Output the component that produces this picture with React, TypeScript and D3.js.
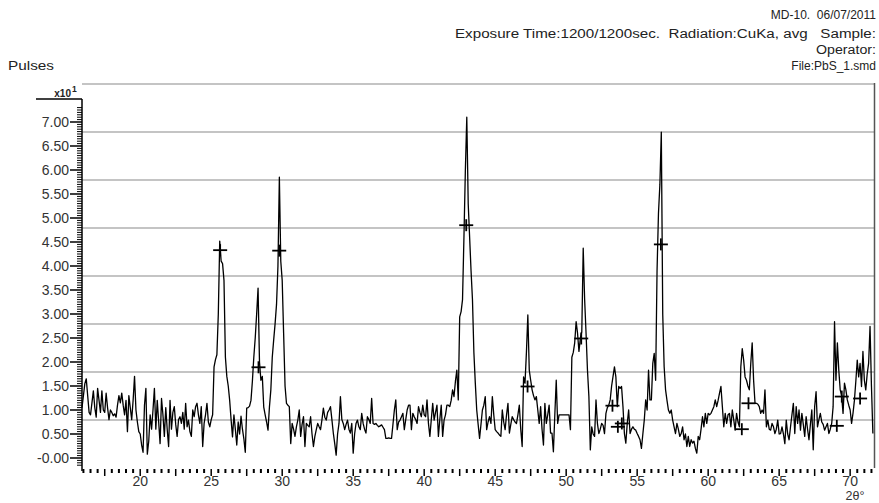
import React from "react";
import * as d3 from "d3";

// 2θ grid of the scan: first angle and step (degrees)
const thetaStart = 15.9;
const thetaStep = 0.1;

// Pulses (x10^1), one value per step
const pulses: number[] = [
  1.05,
  1.3, 1.55, 1.65, 1.3, 0.95, 0.9, 1.15, 1.4, 1.05, 0.85,
  1.45, 1.2, 0.95, 1.4, 1.0, 0.95, 1.35, 1.05, 0.8, 1.0,
  0.95, 0.88, 0.92, 0.85, 1.1, 1.3, 1.15, 1.35, 1.1, 0.9,
  1.2, 0.55, 1.3, 1.05, 0.8, 1.2, 1.7, 1.0, 0.75, 0.55,
  0.5, 0.27, 0.12, 1.1, 1.45, 0.08, 0.35, 0.9, 0.6, 1.0,
  1.45, 0.6, 1.2, 0.75, 0.3, 1.24, 0.9, 0.45, 1.05, 0.6,
  0.24, 1.2, 0.6, 0.95, 1.07, 0.7, 0.45, 0.8, 0.86, 0.72,
  0.95, 0.6, 1.14, 0.65, 0.79, 0.55, 0.45, 1.0, 0.86, 1.07,
  1.14, 0.9, 0.72, 1.07, 0.24, 0.72, 0.9, 1.14, 0.75, 0.65,
  0.8, 0.9, 1.9, 2.05, 2.15, 3.0, 4.52, 4.1, 4.05, 3.7,
  2.1, 1.7, 1.5, 1.2, 0.8, 0.44, 0.9, 0.6, 0.27, 0.75,
  0.5, 0.87, 0.6, 0.4, 0.12, 1.04, 1.05, 1.08, 1.2, 1.6,
  2.1, 2.5, 3.0, 3.54, 2.0, 1.62, 1.7, 1.06, 0.9, 0.75,
  0.58, 1.06, 1.42, 2.1, 2.46, 2.8, 3.2, 4.0, 5.85, 4.1,
  3.7, 2.6, 1.5, 1.14, 1.1, 1.07, 0.3, 0.72, 0.6, 0.45,
  0.65, 0.79, 1.0, 0.45, 0.7, 0.86, 0.24, 0.72, 0.68, 0.65,
  0.86, 0.5, 0.24, 0.45, 0.59, 0.72, 0.65, 0.59, 0.8, 1.04,
  0.85, 0.79, 0.95, 1.0, 1.07, 0.8, 0.52, 0.3, 0.06, 0.5,
  0.72, 1.28, 0.8, 0.72, 0.59, 0.7, 0.79, 0.6, 0.52, 0.72,
  0.1, 0.5, 0.72, 0.79, 0.65, 0.59, 0.93, 0.72, 0.6, 0.52,
  0.86, 0.8, 0.72, 1.24, 0.72, 0.7, 0.72, 0.68, 0.65, 0.67,
  0.69, 0.64, 0.59, 0.41, 0.41, 0.42, 0.41, 0.41, 0.7, 1.0,
  1.21, 0.59, 0.75, 0.79, 0.86, 0.93, 0.59, 0.8, 1.0, 1.1,
  1.1, 0.59, 0.93, 0.86, 0.8, 0.72, 1.07, 0.95, 0.86, 1.1,
  0.9, 0.86, 1.21, 0.72, 0.45, 0.8, 1.14, 0.79, 0.95, 1.1,
  0.45, 0.8, 1.1, 0.45, 0.79, 0.9, 1.1, 1.1, 1.07, 1.2,
  1.42, 1.28, 1.6, 1.83, 1.21, 2.94, 3.05, 3.3, 4.6, 6.0,
  7.1, 5.3, 4.6, 3.9, 3.3, 2.2, 1.56, 1.0, 0.7, 0.41,
  0.7, 1.0, 1.1, 1.28, 0.59, 0.75, 0.86, 0.72, 1.28, 0.9,
  0.59, 0.55, 0.52, 0.48, 0.45, 1.0, 0.75, 0.59, 0.9, 1.14,
  0.52, 0.7, 0.86, 0.8, 0.75, 0.72, 0.9, 1.1, 0.6, 0.24,
  1.69, 1.56, 2.2, 2.98, 1.83, 1.62, 1.42, 1.3, 1.21, 1.28,
  1.0, 0.72, 1.07, 0.6, 0.27, 1.14, 0.72, 0.9, 1.1, 0.52,
  0.52, 0.13, 0.9, 1.62, 0.72, 0.9, 0.9, 0.9, 0.9, 0.9,
  0.9, 0.9, 0.9, 0.59, 2.1, 2.2, 2.4, 2.84, 2.6, 2.22,
  2.5, 2.63, 4.37, 3.3, 2.6, 1.83, 1.28, 0.17, 0.65, 0.5,
  0.45, 1.21, 0.72, 0.51, 0.6, 0.72, 0.68, 0.51, 0.93, 1.05,
  1.1, 1.21, 1.5, 1.7, 1.9, 1.69, 1.07, 1.49, 1.45, 1.49,
  1.07, 0.51, 0.31, 0.72, 1.0, 0.51, 0.6, 0.65, 0.6, 0.58,
  0.51, 0.45, 0.38, 0.2, 0.5, 0.79, 1.21, 1.0, 1.83, 1.21,
  1.21, 1.97, 2.18, 1.62, 3.9, 5.1, 5.7, 6.79, 3.0, 1.9,
  1.42, 1.2, 1.0, 0.93, 1.0, 0.79, 0.65, 0.51, 0.72, 0.6,
  0.45, 0.51, 0.65, 0.38, 0.5, 0.24, 0.45, 0.24, 0.38, 0.31,
  0.35, 0.2, 0.1, 0.45, 0.38, 0.6, 0.86, 0.65, 0.93, 0.72,
  0.93, 0.9, 0.93, 1.0, 1.07, 1.21, 1.07, 1.2, 1.35, 1.49,
  1.07, 0.65, 0.93, 0.72, 0.9, 0.93, 0.65, 1.0, 0.8, 0.58,
  0.93, 0.75, 0.65, 1.9, 2.28, 2.04, 1.69, 1.62, 1.5, 1.42,
  1.97, 2.4, 1.62, 1.14, 1.14, 1.12, 1.07, 0.93, 1.0, 0.93,
  1.42, 0.65, 0.79, 0.6, 0.58, 0.72, 0.65, 0.51, 0.6, 0.79,
  0.5, 0.51, 0.65, 0.5, 0.3, 0.79, 0.5, 0.38, 0.65, 0.9,
  1.14, 0.51, 1.07, 0.72, 1.0, 0.58, 0.93, 0.7, 0.45, 0.86,
  0.6, 0.38, 0.7, 1.0, 0.17, 1.07, 1.38, 0.65, 0.8, 0.93,
  0.75, 0.7, 0.58, 0.65, 0.72, 0.51, 0.6, 0.72, 1.07, 2.84,
  1.62, 2.4, 1.83, 1.42, 1.3, 0.93, 1.56, 1.42, 1.21, 1.1,
  1.0, 0.72, 0.93, 1.2, 1.6, 2.04, 1.69, 1.97, 1.49, 2.22,
  1.62, 1.42, 1.75, 1.97, 2.74, 1.5, 0.51,
];

// peak search markers (+)
const markerTheta = [25.63, 28.33, 29.79, 42.96, 47.28, 51.06, 53.26, 53.64, 53.92, 56.67, 62.37, 62.84, 69.06, 69.41, 70.7];
const markerPulses = [4.33, 1.89, 4.32, 4.85, 1.49, 2.49, 1.09, 0.65, 0.72, 4.45, 0.6, 1.14, 0.67, 1.28, 1.24];

// axis labels
const yTickLabels = ["-0.00", "0.50", "1.00", "1.50", "2.00", "2.50", "3.00", "3.50", "4.00", "4.50", "5.00", "5.50", "6.00", "6.50", "7.00"];
const xTickLabels = [20, 25, 30, 35, 40, 45, 50, 55, 60, 65, 70];
const gridValues = [0.79, 1.79, 2.79, 3.79, 4.79, 5.79, 6.79, 7.79];

const headerLines = [
  "MD-10.  06/07/2011",
  "Exposure Time:1200/1200sec.  Radiation:CuKa, avg   Sample:",
  "Operator:",
  "File:PbS_1.smd",
];
// target widths (0 = natural width)
const headerWidths = [0, 421, 60, 0];

const W = 879;
const H = 503;
const FONT = "'Liberation Sans', Arial, Helvetica, sans-serif";

export default function App() {
  const x = d3.scaleLinear().domain([15.9, 71.75]).range([82, 875]);
  const y = d3.scaleLinear().domain([0, 7]).range([458, 122]);

  const pts: [number, number][] = pulses.map((v, i) => [thetaStart + i * thetaStep, v]);
  const line = d3
    .line<[number, number]>()
    .x((d) => x(d[0]))
    .y((d) => y(d[1]));

  // y ruler ticks every 0.05
  const yMinor = d3.range(-3, 147).map((k) => k * 0.05);
  // x ticks every 0.5 deg
  const xTicks = d3.range(32, 144).map((k) => k * 0.5);

  const headerY = [19, 38, 54, 70];

  return (
    <svg
      width={W}
      height={H}
      viewBox={`0 0 ${W} ${H}`}
      style={{ position: "absolute", left: 0, top: 0, background: "#fff" }}
      fontFamily={FONT}
    >
      <rect x={0} y={0} width={W} height={H} fill="#fff" />
      {/* header */}
      {headerLines.map((t, i) =>
        headerWidths[i] > 0 ? (
          <text
            key={i}
            x={876 - headerWidths[i]}
            y={headerY[i]}
            fontSize={12.5}
            fill="#222"
            textLength={headerWidths[i]}
            lengthAdjust="spacingAndGlyphs"
            style={{ whiteSpace: "pre" }}
          >
            {t}
          </text>
        ) : (
          <text
            key={i}
            x={876}
            y={headerY[i]}
            fontSize={12}
            fill="#222"
            textAnchor="end"
            style={{ whiteSpace: "pre" }}
          >
            {t}
          </text>
        )
      )}
      <text x={8} y={70} fontSize={12.5} fill="#222" textLength={46} lengthAdjust="spacingAndGlyphs">
        Pulses
      </text>

      {/* grid lines */}
      {gridValues.map((g) => (
        <line key={g} x1={82} x2={875} y1={y(g)} y2={y(g)} stroke="#b0b0b0" strokeWidth={1.5} />
      ))}
      {/* right frame */}
      <line x1={874.5} x2={874.5} y1={83} y2={468} stroke="#555" strokeWidth={1.5} />

      {/* y axis */}
      <line x1={36} x2={82} y1={99} y2={99} stroke="#000" strokeWidth={1.5} />
      <line x1={82} x2={82} y1={99} y2={471} stroke="#000" strokeWidth={1.5} />
      <text x={71} y={97} fontSize={10} fontWeight="bold" textAnchor="end" fill="#222">
        x10
      </text>
      <text x={72} y={92} fontSize={8.5} fontWeight="bold" fill="#222">
        1
      </text>
      {yMinor.map((v, i) => {
        const major = Math.abs(v / 0.5 - Math.round(v / 0.5)) < 1e-6;
        return (
          <line
            key={i}
            x1={major ? 70 : 77}
            x2={82}
            y1={y(v)}
            y2={y(v)}
            stroke="#000"
            strokeWidth={major ? 1.5 : 1}
          />
        );
      })}
      {yTickLabels.map((t, i) => (
        <text key={t} x={69} y={y(i * 0.5)} dy="0.36em" fontSize={14} textAnchor="end" fill="#333">
          {t}
        </text>
      ))}

      {/* x axis ticks */}
      {xTicks.map((t) => {
        const long = Math.abs(t / 2.5 - Math.round(t / 2.5)) < 1e-6;
        return (
          <line
            key={t}
            x1={x(t)}
            x2={x(t)}
            y1={469}
            y2={long ? 476 : 473}
            stroke="#000"
            strokeWidth={long ? 1.5 : 2}
          />
        );
      })}
      {xTickLabels.map((t) => (
        <text key={t} x={x(t)} y={486} fontSize={14} textAnchor="middle" fill="#333">
          {t}
        </text>
      ))}
      <text x={855} y={499.5} fontSize={12.5} textAnchor="middle" fill="#333">
        2θ°
      </text>

      {/* data */}
      <path d={line(pts) || ""} fill="none" stroke="#000" strokeWidth={1.3} strokeLinejoin="round" />

      {/* markers */}
      {markerTheta.map((t, i) => (
        <g key={i} stroke="#000" strokeWidth={1.8}>
          <line x1={x(t) - 7} x2={x(t) + 7} y1={y(markerPulses[i])} y2={y(markerPulses[i])} />
          <line x1={x(t)} x2={x(t)} y1={y(markerPulses[i]) - 6} y2={y(markerPulses[i]) + 6} />
        </g>
      ))}
    </svg>
  );
}
